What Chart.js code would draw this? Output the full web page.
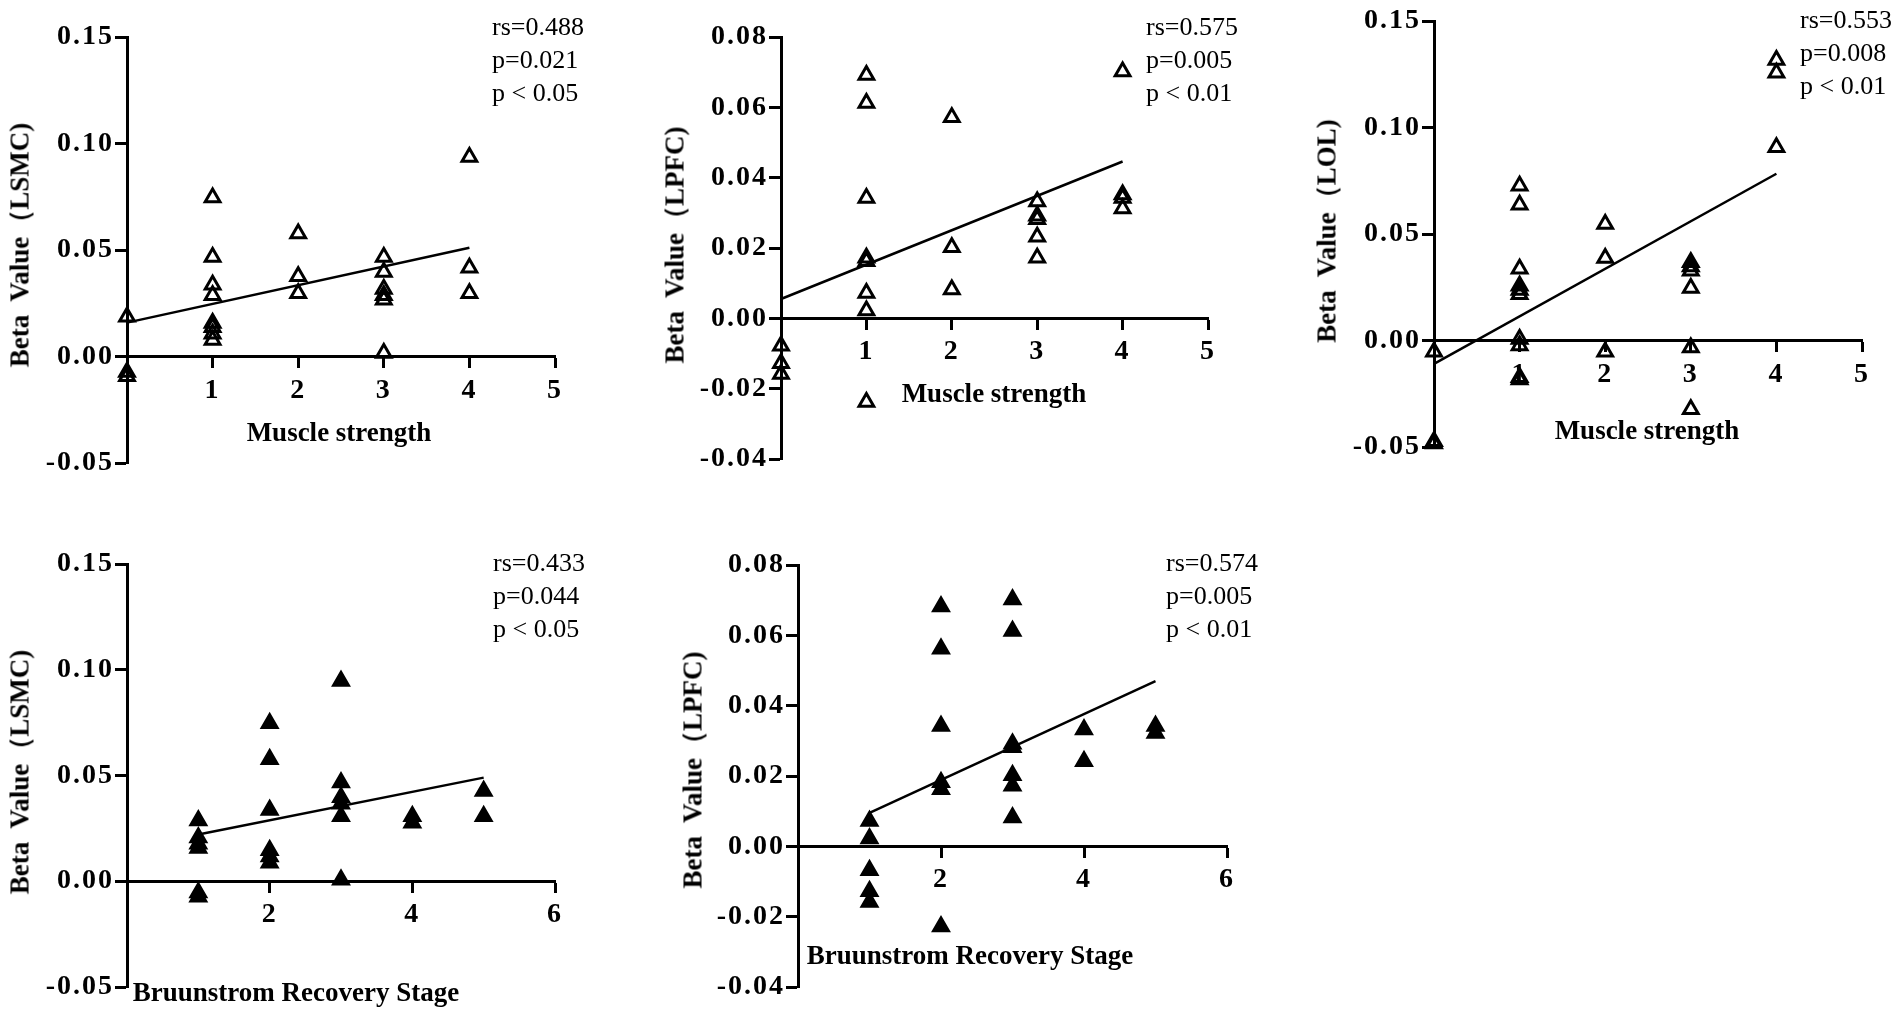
<!DOCTYPE html>
<html>
<head>
<meta charset="utf-8">
<title>Beta value correlations</title>
<script src="https://cdn.jsdelivr.net/npm/chart.js@4.4.1/dist/chart.umd.min.js"></script>
<style>
  html, body { margin: 0; padding: 0; background: #fff; }
  #fig { position: relative; width: 1902px; height: 1013px; overflow: hidden; background: #fff; }
  #fig canvas { position: absolute; }
  .stats, .xtitle, .ytitle { position: absolute; font-family: "Liberation Serif", "Times New Roman", serif; color: #000; line-height: 1; white-space: pre; }
  .stats { font-size: 26px; transform: translateY(-50%); }
  .xtitle { font-size: 27px; font-weight: bold; transform: translate(-50%, -50%); }
  .ytitle { font-size: 27px; font-weight: bold; transform: translate(-50%, -50%) rotate(-90deg); }
</style>
</head>
<body>
<div id="fig"></div>
<script>
// ── Tick labels ──
const strengthTicks = [1, 2, 3, 4, 5];
const stageTicks    = [2, 4, 6];
const lsmcTicks     = [-0.05, 0, 0.05, 0.10, 0.15];
const lpfcTicks     = [-0.04, -0.02, 0, 0.02, 0.04, 0.06, 0.08];
const lolTicks      = [-0.05, 0, 0.05, 0.10, 0.15];

// ── LSMC vs muscle strength ──
const lsmcStrengthX = [0, 0, 0, 1, 1, 1, 1, 1, 1, 1, 1, 2, 2, 2, 3, 3, 3, 3, 3, 3, 4, 4, 4];
const lsmcStrengthY = [0.0187, -0.0073, -0.0093, 0.0747, 0.0467, 0.0337, 0.0287, 0.0157, 0.0137, 0.0107, 0.0077,
                       0.0577, 0.0377, 0.0297, 0.0467, 0.0397, 0.0317, 0.0287, 0.0267, 0.0017, 0.0937, 0.0417, 0.0297];
const lsmcStrengthFitX = [0, 4];
const lsmcStrengthFitY = [0.0159, 0.0511];
const lsmcStrengthStats = ['rs=0.488', 'p=0.021', 'p < 0.05'];

// ── LPFC vs muscle strength ──
const lpfcStrengthX = [0, 0, 0, 1, 1, 1, 1, 1, 1, 1, 1, 2, 2, 2, 3, 3, 3, 3, 3, 4, 4, 4, 4];
const lpfcStrengthY = [-0.0078, -0.0128, -0.0158, 0.0692, 0.0612, 0.0342, 0.0172, 0.0162, 0.0072, 0.0022, -0.0238,
                       0.0572, 0.0202, 0.0082, 0.0332, 0.0292, 0.0282, 0.0232, 0.0172, 0.0702, 0.0352, 0.0342, 0.0312];
const lpfcStrengthFitX = [0, 4];
const lpfcStrengthFitY = [0.0055, 0.0446];
const lpfcStrengthStats = ['rs=0.575', 'p=0.005', 'p < 0.01'];

// ── LOL vs muscle strength ──
const lolStrengthX = [0, 0, 0, 1, 1, 1, 1, 1, 1, 1, 1, 1, 1, 2, 2, 2, 3, 3, 3, 3, 3, 3, 4, 4, 4];
const lolStrengthY = [-0.0053, -0.0473, -0.0483, 0.0727, 0.0637, 0.0337, 0.0257, 0.0237, 0.0217, 0.0007, -0.0023, -0.0173, -0.0183,
                      0.0547, 0.0387, -0.0053, 0.0367, 0.0347, 0.0327, 0.0247, -0.0033, -0.0323, 0.1317, 0.1257, 0.0907];
const lolStrengthFitX = [0, 4];
const lolStrengthFitY = [-0.011, 0.0783];
const lolStrengthStats = ['rs=0.553', 'p=0.008', 'p < 0.01'];

// ── LSMC vs Brunnstrom stage ──
const lsmcStageX = [1, 1, 1, 1, 1, 1, 2, 2, 2, 2, 2, 2, 3, 3, 3, 3, 3, 3, 4, 4, 5, 5];
const lsmcStageY = [0.0287, 0.0207, 0.0177, 0.0157, -0.0053, -0.0073, 0.0747, 0.0577, 0.0337, 0.0147, 0.0117, 0.0087,
                    0.0947, 0.0467, 0.0397, 0.0367, 0.0307, 0.0007, 0.0307, 0.0277, 0.0427, 0.0307];
const lsmcStageFitX = [1, 5];
const lsmcStageFitY = [0.0221, 0.049];
const lsmcStageStats = ['rs=0.433', 'p=0.044', 'p < 0.05'];

// ── LPFC vs Brunnstrom stage ──
const lpfcStageX = [1, 1, 1, 1, 1, 2, 2, 2, 2, 2, 2, 3, 3, 3, 3, 3, 3, 3, 4, 4, 5, 5];
const lpfcStageY = [0.0072, 0.0022, -0.0068, -0.0128, -0.0158, 0.0682, 0.0562, 0.0342, 0.0182, 0.0162, -0.0228,
                    0.0702, 0.0612, 0.0292, 0.0282, 0.0202, 0.0172, 0.0082, 0.0332, 0.0242, 0.0342, 0.0322];
const lpfcStageFitX = [1, 5];
const lpfcStageFitY = [0.0095, 0.047];
const lpfcStageStats = ['rs=0.574', 'p=0.005', 'p < 0.01'];

const serif = '"Liberation Serif", "Times New Roman", serif';
Chart.defaults.font.family = serif;
Chart.defaults.color = '#000';

// ── Panels: data references + page placement (axis box in px) ──
const panels = [
  { xs: lsmcStrengthX, ys: lsmcStrengthY, fitX: lsmcStrengthFitX, fitY: lsmcStrengthFitY, stats: lsmcStrengthStats,
    xTicks: strengthTicks, yTicks: lsmcTicks, xMax: 5, filled: false,
    yTitle: 'Beta  Value（LSMC)', xTitle: 'Muscle strength',
    box: { left: 127, right: 555, top: 37, bottom: 463 }, statsAt: [492, 27], xTitleAt: [339, 432], yTitleAt: [20, 245] },
  { xs: lpfcStrengthX, ys: lpfcStrengthY, fitX: lpfcStrengthFitX, fitY: lpfcStrengthFitY, stats: lpfcStrengthStats,
    xTicks: strengthTicks, yTicks: lpfcTicks, xMax: 5, filled: false,
    yTitle: 'Beta  Value（LPFC)', xTitle: 'Muscle strength',
    box: { left: 781, right: 1208, top: 37, bottom: 459 }, statsAt: [1146, 27], xTitleAt: [994, 393], yTitleAt: [675, 245] },
  { xs: lolStrengthX, ys: lolStrengthY, fitX: lolStrengthFitX, fitY: lolStrengthFitY, stats: lolStrengthStats,
    xTicks: strengthTicks, yTicks: lolTicks, xMax: 5, filled: false,
    yTitle: 'Beta  Value（LOL)', xTitle: 'Muscle strength',
    box: { left: 1434, right: 1862, top: 21, bottom: 447 }, statsAt: [1800, 20], xTitleAt: [1647, 430], yTitleAt: [1327, 231] },
  { xs: lsmcStageX, ys: lsmcStageY, fitX: lsmcStageFitX, fitY: lsmcStageFitY, stats: lsmcStageStats,
    xTicks: stageTicks, yTicks: lsmcTicks, xMax: 6, filled: true,
    yTitle: 'Beta  Value（LSMC)', xTitle: 'Bruunstrom Recovery Stage',
    box: { left: 127, right: 555, top: 564, bottom: 987 }, statsAt: [493, 563], xTitleAt: [296, 992], yTitleAt: [20, 772] },
  { xs: lpfcStageX, ys: lpfcStageY, fitX: lpfcStageFitX, fitY: lpfcStageFitY, stats: lpfcStageStats,
    xTicks: stageTicks, yTicks: lpfcTicks, xMax: 6, filled: true,
    yTitle: 'Beta  Value（LPFC)', xTitle: 'Bruunstrom Recovery Stage',
    box: { left: 798, right: 1227, top: 565, bottom: 987 }, statsAt: [1166, 563], xTitleAt: [970, 955], yTitleAt: [693, 770] }
];

const fig = document.getElementById('fig');
const AXIS_W = 122;

function addText(cls, text, left, top) {
  const d = document.createElement('div');
  d.className = cls;
  d.textContent = text;
  d.style.left = left + 'px';
  d.style.top = top + 'px';
  fig.appendChild(d);
}

// the figure's tick digits are set wide; open them up a little
const spacedTicks = {
  id: 'spacedTicks',
  beforeDraw: chart => { chart.ctx.letterSpacing = '2px'; }
};

const tickFont = { size: 28, weight: 'bold' };
const axisLine = { display: true, color: '#000', width: 3 };
const xTickMarks = { display: true, drawOnChartArea: false, drawTicks: true, tickLength: 10, tickWidth: 3, tickColor: '#000' };
const yTickMarks = { display: true, drawOnChartArea: false, drawTicks: true, tickLength: 12, tickWidth: 3, tickColor: '#000' };

function buildPanel(p) {
  const b = p.box;
  const padT = Math.min(25, b.top), padB = 25, padR = 30;
  const w = AXIS_W + (b.right - b.left) + padR;
  const h = padT + (b.bottom - b.top) + padB;
  const canvas = document.createElement('canvas');
  canvas.width = w;
  canvas.height = h;
  canvas.style.left = (b.left - AXIS_W) + 'px';
  canvas.style.top = (b.top - padT) + 'px';
  canvas.style.width = w + 'px';
  canvas.style.height = h + 'px';
  fig.appendChild(canvas);

  new Chart(canvas, {
    type: 'scatter',
    plugins: [spacedTicks],
    data: {
      datasets: [
        {
          data: p.xs.map((x, i) => ({ x, y: p.ys[i] })),
          pointStyle: 'triangle',
          pointRadius: 8.5,
          pointHoverRadius: 8.5,
          pointBorderWidth: 3,
          pointBorderColor: '#000',
          pointBackgroundColor: p.filled ? '#000' : 'rgba(0,0,0,0)',
          clip: false
        },
        {
          data: p.fitX.map((x, i) => ({ x, y: p.fitY[i] })),
          showLine: true,
          borderColor: '#000',
          borderWidth: 2.5,
          pointRadius: 0,
          pointHoverRadius: 0,
          clip: false
        }
      ]
    },
    options: {
      responsive: false,
      animation: false,
      events: [],
      layout: { padding: { left: 0, top: padT, right: padR, bottom: padB } },
      plugins: { legend: { display: false }, tooltip: { enabled: false } },
      scales: {
        x: {
          type: 'linear',
          min: 0,
          max: p.xMax,
          position: { y: 0 },
          afterFit: s => { s.height = 0; },
          afterBuildTicks: s => { s.ticks = p.xTicks.map(v => ({ value: v })); },
          border: axisLine,
          grid: xTickMarks,
          ticks: { autoSkip: false, maxRotation: 0, padding: 7, color: '#000', font: tickFont }
        },
        y: {
          type: 'linear',
          min: p.yTicks[0],
          max: p.yTicks[p.yTicks.length - 1],
          position: 'left',
          afterFit: s => { s.width = AXIS_W; },
          afterBuildTicks: s => { s.ticks = p.yTicks.map(v => ({ value: v })); },
          border: axisLine,
          grid: yTickMarks,
          ticks: { autoSkip: false, padding: 1, color: '#000', font: tickFont, callback: v => v.toFixed(2) }
        }
      }
    }
  });

  p.stats.forEach((line, i) => addText('stats', line, p.statsAt[0], p.statsAt[1] + i * 33));
  addText('xtitle', p.xTitle, p.xTitleAt[0], p.xTitleAt[1]);
  addText('ytitle', p.yTitle, p.yTitleAt[0], p.yTitleAt[1]);
}

window.addEventListener('DOMContentLoaded', () => panels.forEach(buildPanel));
</script>
</body>
</html>
